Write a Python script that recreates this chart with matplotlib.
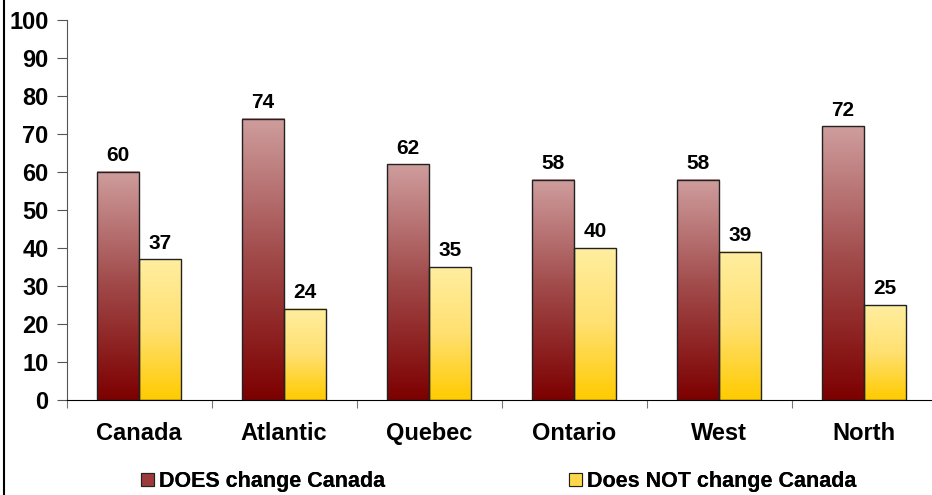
import numpy as np
import matplotlib as mpl
mpl.use('Agg')
import matplotlib.pyplot as plt
import matplotlib.patches as patches
import matplotlib.lines as lines
from matplotlib.colors import LinearSegmentedColormap

#
#--- chart data
#
regions  = ['Canada', 'Atlantic', 'Quebec', 'Ontario', 'West', 'North']
does     = [60, 74, 62, 58, 58, 72]
does_not = [37, 24, 35, 40, 39, 25]
labels   = ['DOES change Canada', 'Does NOT change Canada']
yticks   = [0, 10, 20, 30, 40, 50, 60, 70, 80, 90, 100]

#
#--- gradient colour maps (bottom -> top)
#
red_cmap = LinearSegmentedColormap.from_list('red', ['#7d0000', '#a04848', '#cf9d9d'])
yel_cmap = LinearSegmentedColormap.from_list('yel', ['#ffcb00', '#ffe070', '#ffeea0'])

mpl.rcParams['font.family'] = ['Liberation Sans', 'DejaVu Sans']
mpl.rcParams['font.weight'] = 'bold'

fig = plt.figure(figsize=(9.32, 4.95), dpi=100)
ax  = fig.add_axes([66.5 / 932, 1 - 400 / 495, 870 / 932, 380 / 495])

bw   = 0.29
grad = np.linspace(0, 1, 256).reshape(-1, 1)


def gradient_bar(ax, x0, h, cmap):
    """
    draw one bar with a vertical gradient and a thin black edge
    """
    ax.imshow(grad, extent=[x0, x0 + bw, 0, h], origin='lower', aspect='auto',
              cmap=cmap, zorder=2)
    ax.add_patch(patches.Rectangle((x0, 0), bw, h, fill=False, edgecolor='#222222',
                                   lw=1.0, zorder=3))
    ax.text(x0 + bw / 2, h + 1.8, str(h), ha='center', va='bottom',
            fontsize=15, fontweight='bold', zorder=4)


for i in range(0, len(regions)):
    gradient_bar(ax, i + 0.5 - bw, does[i], red_cmap)
    gradient_bar(ax, i + 0.5, does_not[i], yel_cmap)

ax.set_xlim(0, 6)
ax.set_ylim(0, 100)
#
#--- axes styling
#
for side in ('top', 'right'):
    ax.spines[side].set_visible(False)
ax.spines['left'].set_color('#555555')
ax.spines['bottom'].set_color('#000000')

ax.set_yticks(yticks)
ax.set_yticklabels([str(v) for v in yticks], fontsize=17, fontweight='bold')
ax.tick_params(axis='y', direction='out', length=7, color='#555555', pad=6)

ax.set_xticks(range(0, 7))
ax.set_xticklabels([])
ax.set_xticks([i + 0.5 for i in range(0, 6)], minor=True)
ax.set_xticklabels(regions, minor=True, fontsize=17, fontweight='bold')
ax.tick_params(axis='x', which='major', direction='out', length=6, color='#777777')
ax.tick_params(axis='x', which='minor', length=0, pad=16)

#
#--- legend: two entries placed separately
#
h1 = patches.Patch(facecolor='#9a3a3a', edgecolor='#222222', lw=0.8)
h2 = patches.Patch(facecolor='#ffd84a', edgecolor='#222222', lw=0.8)
prop = {'weight': 'bold', 'size': 15.5}
for handle, label, xpos in ((h1, labels[0], 141), (h2, labels[1], 569)):
    leg = fig.legend([handle], [label], loc='center left',
                     bbox_to_anchor=(xpos / 932, 1 - 481.5 / 495), frameon=False,
                     borderpad=0, borderaxespad=0, handlelength=0.6,
                     handleheight=0.6, handletextpad=0.25, prop=prop)
    fig.add_artist(leg)

#
#--- left border line
#
fig.add_artist(lines.Line2D([3.5 / 932, 3.5 / 932], [0, 1], color='black', lw=1.5))

plt.savefig('out.png', dpi=100)
